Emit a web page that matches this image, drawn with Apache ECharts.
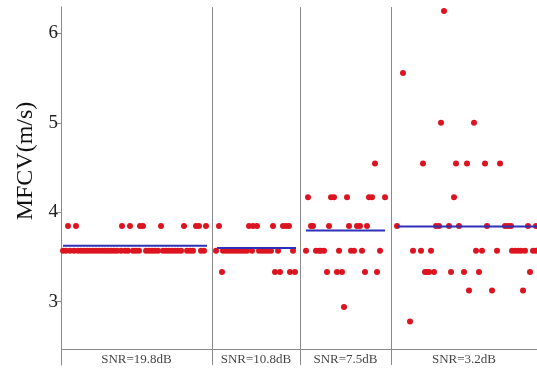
<!DOCTYPE html>
<html>
<head>
<meta charset="utf-8">
<script src="https://cdn.jsdelivr.net/npm/echarts@6/dist/echarts.min.js"></script>
<style>html,body{margin:0;padding:0;background:#fff;}#c{width:537px;height:371px;}</style>
</head>
<body>
<div id="c"></div>
<script>
// Group labels and boundaries (sample position units)
var categories = ['SNR=19.8dB', 'SNR=10.8dB', 'SNR=7.5dB', 'SNR=3.2dB'];
var boundaries = [0, 151, 239, 330, 476];
var yTicks = [3, 4, 5, 6];
var yTitle = 'MFCV(m/s)';

// Mean MFCV per group and extent of the mean line [from, to]
var groupMeans = [3.626, 3.60, 3.795, 3.84];
var meanSpans = [[2, 146], [156, 235], [245, 324], [336, 476]];

// Observed MFCV values: [level, x positions]
var g1 = [
  [3.846, [7, 15, 61, 69, 79, 82, 100, 123, 135, 138, 145]],
  [3.571, [2, 5, 9, 13, 17, 20, 23, 26, 29, 32, 35, 38, 41, 44, 47, 50, 53, 56, 60, 64, 67, 72, 75, 78, 85, 88, 91, 94, 97, 102, 105, 108, 111, 114, 117, 120, 126, 129, 132, 140, 143]]
];
var g2 = [
  [3.846, [158, 188, 192, 196, 212, 222, 225, 228]],
  [3.571, [155, 162, 165, 168, 171, 174, 177, 180, 183, 186, 191, 198, 201, 204, 207, 210, 217, 232]],
  [3.333, [161, 214, 219, 229, 234]]
];
var g3 = [
  [4.545, [314]],
  [4.167, [247, 270, 273, 286, 308, 311, 324]],
  [3.846, [250, 252, 268, 288, 296, 299, 306]],
  [3.571, [245, 255, 258, 260, 263, 278, 290, 293, 301, 319]],
  [3.333, [266, 276, 281, 304, 316]],
  [2.941, [283]]
];
var g4 = [
  [6.25, [383]],
  [5.556, [342]],
  [5.0, [380, 413]],
  [4.545, [362, 395, 406, 424, 439]],
  [4.167, [393]],
  [3.846, [336, 375, 378, 388, 398, 426, 444, 447, 450, 467, 475]],
  [3.571, [352, 360, 370, 415, 421, 436, 451, 454, 457, 460, 464, 472, 475]],
  [3.333, [364, 366, 368, 373, 390, 403, 418, 469]],
  [3.125, [408, 431, 462]],
  [2.778, [349]]
];

var Y_MIN = 2.293, Y_MAX = 6.294, BASELINE = 2.472, LABEL_Y = 2.349;

function toPoints(groups) {
  var pts = [];
  groups.forEach(function (g) {
    g.forEach(function (row) {
      row[1].forEach(function (x) { pts.push([x, row[0]]); });
    });
  });
  return pts;
}

var dots = toPoints([g1, g2, g3, g4]);
var serif = 'Liberation Serif, Times New Roman, serif';
var axisGray = '#8a8a8a';

var series = [];
series.push({
  type: 'scatter',
  data: dots,
  symbolSize: 6,
  itemStyle: { color: '#dc1420', opacity: 1 },
  z: 3,
  markLine: {
    silent: true,
    symbol: ['none', 'none'],
    label: { show: false },
    lineStyle: { color: axisGray, type: 'solid', width: 1 },
    animation: false,
    data: boundaries.slice(1, boundaries.length - 1).map(function (b) { return { xAxis: b }; })
      .concat([{ yAxis: BASELINE }])
  }
});
groupMeans.forEach(function (m, i) {
  series.push({
    type: 'line',
    data: [[meanSpans[i][0], m], [meanSpans[i][1], m]],
    showSymbol: false,
    symbol: 'none',
    lineStyle: { color: '#2f2fb8', width: 2 },
    z: 4,
    animation: false
  });
});
series.push({
  type: 'scatter',
  symbolSize: 0,
  silent: true,
  data: categories.map(function (c, i) {
    return { name: c, value: [(boundaries[i] + boundaries[i + 1]) / 2, LABEL_Y] };
  }),
  label: {
    show: true,
    position: 'inside',
    formatter: '{b}',
    fontFamily: serif,
    fontSize: 13,
    color: '#111'
  }
});

var chart = echarts.init(document.getElementById('c'));
chart.setOption({
  animation: false,
  grid: { left: 61, right: 0, top: 7, bottom: 6 },
  xAxis: {
    type: 'value', min: boundaries[0], max: boundaries[boundaries.length - 1],
    show: false
  },
  yAxis: {
    type: 'value', min: Y_MIN, max: Y_MAX,
    axisLine: { show: true, lineStyle: { color: axisGray, width: 1 } },
    axisTick: { show: true, customValues: yTicks, length: 6, lineStyle: { color: axisGray } },
    axisLabel: { customValues: yTicks, fontFamily: serif, fontSize: 19, color: '#222', margin: 3 },
    splitLine: { show: false }
  },
  graphic: [{
    type: 'text',
    x: 26, y: 161,
    rotation: Math.PI / 2,
    style: {
      text: yTitle, fontFamily: serif, fontSize: 24, fill: '#111',
      align: 'center', verticalAlign: 'middle'
    }
  }],
  series: series
});
</script>
</body>
</html>
